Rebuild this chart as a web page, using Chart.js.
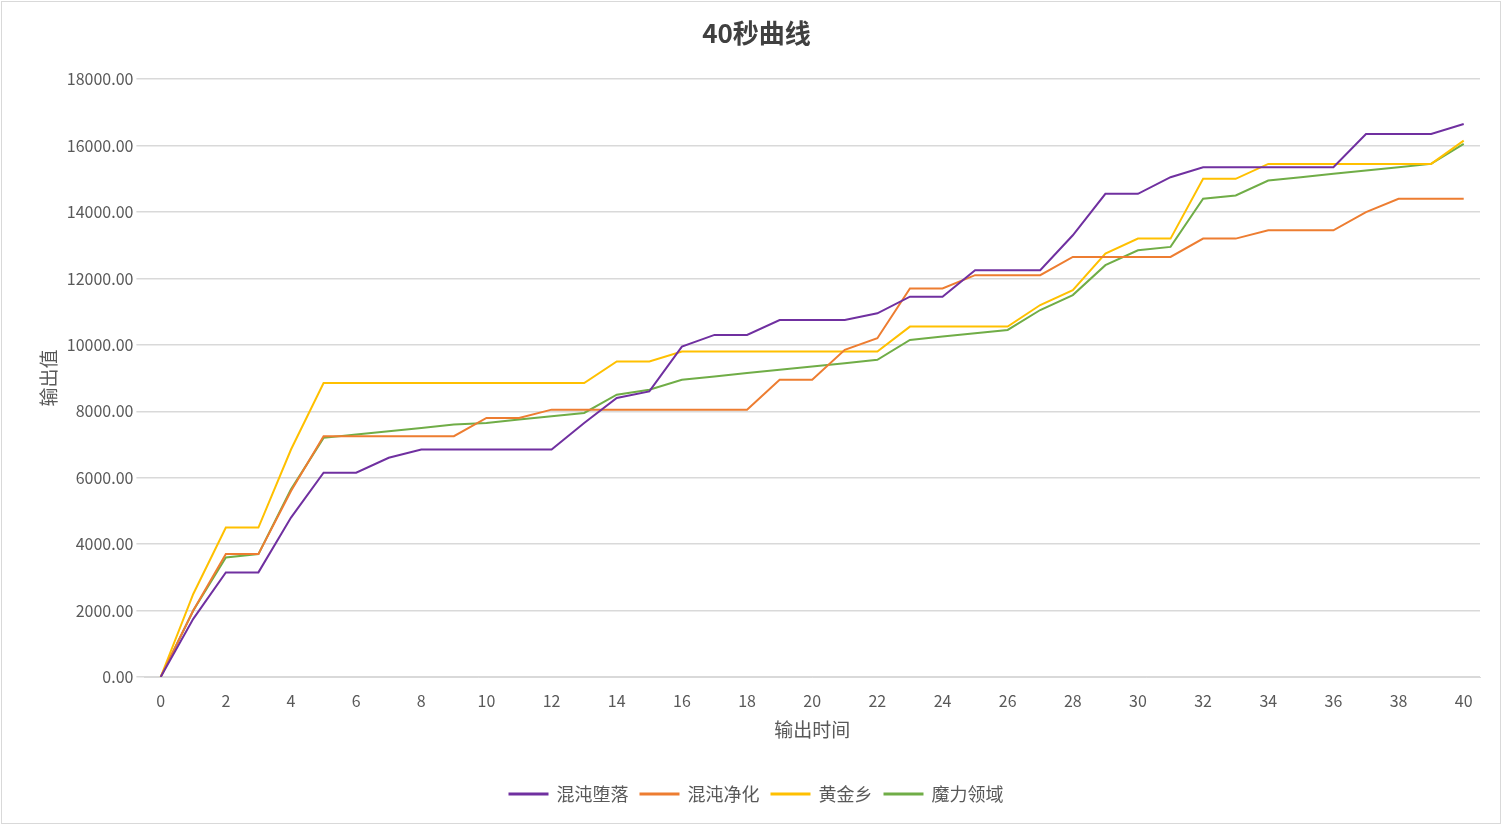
<!DOCTYPE html>
<html><head><meta charset="utf-8">
<script src="https://cdn.jsdelivr.net/npm/chart.js@4/dist/chart.umd.min.js"></script>
<style>html,body{margin:0;padding:0;background:#fff}#w{position:absolute;left:1px;top:1px;width:1500px;height:823px;border:1px solid #d9d9d9;box-sizing:border-box}</style>
</head><body><div id="w"><canvas id="c"></canvas></div>
<script>
const seconds = Array.from({length:41},(_, i)=>i);
const hundun = [0,1750,3150,3150,4800,6150,6150,6600,6850,6850,6850,6850,6850,7650,8400,8600,9950,10300,10300,10750,10750,10750,10950,11450,11450,12250,12250,12250,13300,14550,14550,15050,15350,15350,15350,15350,15350,16350,16350,16350,16650];
const jinghua = [0,2000,3700,3700,5600,7250,7250,7250,7250,7250,7800,7800,8050,8050,8050,8050,8050,8050,8050,8950,8950,9850,10200,11700,11700,12100,12100,12100,12650,12650,12650,12650,13200,13200,13450,13450,13450,14000,14400,14400,14400];
const huangjin = [0,2500,4500,4500,6850,8850,8850,8850,8850,8850,8850,8850,8850,8850,9500,9500,9800,9800,9800,9800,9800,9800,9800,10550,10550,10550,10550,11200,11650,12750,13200,13200,15000,15000,15450,15450,15450,15450,15450,15450,16150];
const moli = [0,2000,3600,3700,5650,7200,7300,7400,7500,7600,7650,7750,7850,7950,8500,8650,8950,9050,9150,9250,9350,9450,9550,10150,10250,10350,10450,11050,11500,12400,12850,12950,14400,14500,14950,15050,15150,15250,15350,15450,16050];
const names = ['混沌堕落','混沌净化','黄金乡','魔力领域'];
const colors = ['#7030a0','#ed7d31','#ffc000','#70ad47'];
const series=[hundun,jinghua,huangjin,moli];
const font="'Noto Sans CJK SC','Noto Sans',sans-serif";
new Chart(document.getElementById('c'),{type:'line',
data:{datasets:series.map((s,k)=>({label:names[k],data:s.map((v,i)=>({x:seconds[i],y:v})),borderColor:colors[k],backgroundColor:colors[k],borderWidth:2,pointRadius:0,tension:0}))},
options:{responsive:true,maintainAspectRatio:false,animation:false,
layout:{padding:{left:31,right:20,top:10,bottom:10}},
plugins:{title:{display:true,text:'40秒曲线',font:{family:font,size:26,weight:'bold'},color:'#404040',padding:{top:6,bottom:30}},
legend:{position:'bottom',labels:{font:{family:font,size:18},color:'#595959',boxWidth:38,boxHeight:1,padding:12},padding:{top:20}},tooltip:{enabled:false}},
scales:{x:{type:'linear',min:-0.5,max:40.5,afterBuildTicks:a=>{a.ticks=seconds.filter(v=>v%2===0).map(v=>({value:v}));},
ticks:{font:{family:font,size:16},color:'#595959',padding:6},grid:{display:false},border:{color:'#d9d9d9'},
title:{display:true,text:'输出时间',font:{family:font,size:19},color:'#595959',padding:{top:2,bottom:32}}},
y:{min:0,max:18000,ticks:{stepSize:2000,callback:v=>v.toFixed(2),font:{family:font,size:16},color:'#595959'},grid:{color:'#d9d9d9',lineWidth:1.5},border:{display:false},
title:{display:true,text:'输出值',font:{family:font,size:19},color:'#595959'}}}}});
</script></body></html>
